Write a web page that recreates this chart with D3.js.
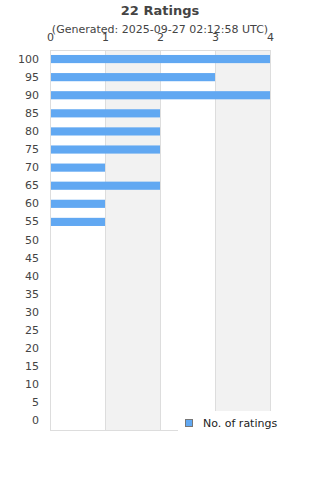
<!DOCTYPE html>
<html>
<head>
<meta charset="utf-8">
<script src="https://cdn.jsdelivr.net/npm/d3@7"></script>
<style>
  body { margin: 0; background: #fff; }
  text { font-family: "DejaVu Sans", sans-serif; }
</style>
</head>
<body>
<div id="chart"></div>
<script>
// rating categories, top to bottom
const ratings = [100, 95, 90, 85, 80, 75, 70, 65, 60, 55, 50, 45, 40, 35, 30, 25, 20, 15, 10, 5, 0];
// number of ratings per category
const counts = [4, 3, 4, 2, 2, 2, 1, 2, 1, 1, 0, 0, 0, 0, 0, 0, 0, 0, 0, 0, 0];
const xTicks = [0, 1, 2, 3, 4];

const title = "22 Ratings";
const subtitle = "(Generated: 2025-09-27 02:12:58 UTC)";
const seriesName = "No. of ratings";

const width = 320, height = 480;
const margin = { top: 50, right: 50, bottom: 50, left: 50 };
const innerWidth = width - margin.left - margin.right;
const innerHeight = height - margin.top - margin.bottom;

const svg = d3.select("#chart")
  .append("svg")
  .attr("width", width)
  .attr("height", height);

// Titel
svg.append("text")
  .attr("x", width / 2).attr("y", 15)
  .attr("text-anchor", "middle")
  .attr("font-size", 13).attr("font-weight", "bold")
  .attr("fill", "#444")
  .text(title);

svg.append("text")
  .attr("x", width / 2).attr("y", 33)
  .attr("text-anchor", "middle")
  .attr("font-size", 11)
  .attr("fill", "#444")
  .text(subtitle);

const xScale = d3.scaleLinear()
  .domain([0, 4])
  .range([0, innerWidth]);

const yScale = d3.scaleBand()
  .domain(ratings)
  .range([0, innerHeight])
  .paddingInner(0.55)
  .paddingOuter(0.275);

const inner = svg.append("g")
  .attr("transform", `translate(${margin.left}, ${margin.top})`);

// alternating bands
inner.selectAll(".band")
  .data([1, 3])
  .join("rect")
  .attr("class", "band")
  .attr("x", d => xScale(d))
  .attr("y", 0)
  .attr("width", d => xScale(d + 1) - xScale(d))
  .attr("height", innerHeight)
  .attr("fill", "#f2f2f2");

// grid lines
inner.selectAll(".grid")
  .data(xTicks)
  .join("line")
  .attr("class", "grid")
  .attr("x1", d => Math.round(xScale(d)) + 0.5)
  .attr("x2", d => Math.round(xScale(d)) + 0.5)
  .attr("y1", 0).attr("y2", innerHeight)
  .attr("stroke", "#ddd");

inner.append("line")
  .attr("x1", 0).attr("x2", innerWidth)
  .attr("y1", 0.5).attr("y2", 0.5)
  .attr("stroke", "#ddd");
inner.append("line")
  .attr("x1", 0).attr("x2", innerWidth)
  .attr("y1", innerHeight + 0.5).attr("y2", innerHeight + 0.5)
  .attr("stroke", "#ddd");

// bars
inner.selectAll(".bar")
  .data(ratings.map((r, i) => ({ rating: r, count: counts[i] })))
  .join("rect")
  .attr("class", "bar")
  .attr("x", xScale(0) + 1)
  .attr("y", d => yScale(d.rating))
  .attr("width", d => Math.max(0, xScale(d.count) - 1))
  .attr("height", yScale.bandwidth())
  .attr("fill", "#61a8f2");

// axes
const topAxis = d3.axisTop(xScale)
  .tickValues(xTicks)
  .tickFormat(d3.format("d"))
  .tickSize(0)
  .tickPadding(9);
inner.append("g")
  .call(topAxis)
  .call(g => g.select(".domain").remove())
  .call(g => g.selectAll("text").attr("font-size", 11).attr("fill", "#444").attr("font-family", "DejaVu Sans, sans-serif"));

const leftAxis = d3.axisLeft(yScale)
  .tickSize(0)
  .tickPadding(11);
inner.append("g")
  .call(leftAxis)
  .call(g => g.select(".domain").remove())
  .call(g => g.selectAll("text").attr("font-size", 11).attr("fill", "#444").attr("font-family", "DejaVu Sans, sans-serif"));

// legend
const legend = svg.append("g")
  .attr("transform", "translate(178, 411)");
legend.append("rect")
  .attr("width", 142).attr("height", 25)
  .attr("fill", "#fff");
legend.append("rect")
  .attr("x", 7.5).attr("y", 8.5)
  .attr("width", 7).attr("height", 7)
  .attr("fill", "#61a8f2")
  .attr("stroke", "#777");
legend.append("text")
  .attr("x", 25).attr("y", 15.5)
  .attr("font-size", 11)
  .attr("fill", "#222")
  .text(seriesName);
</script>
</body>
</html>
